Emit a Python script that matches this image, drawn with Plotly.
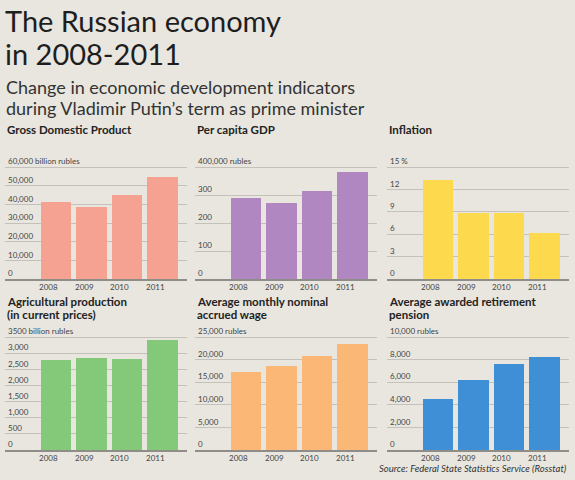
import plotly.graph_objects as go

######################################
### Data

years = ['2008', '2009', '2010', '2011']

gdp = [41300, 38800, 45200, 54600]          # billion rubles
gdp_per_capita = [291, 273, 313, 382]       # thousand rubles
inflation = [13.3, 8.8, 8.8, 6.1]           # %
agri = [2790, 2860, 2810, 3420]             # billion rubles
wage = [17300, 18600, 20900, 23500]         # rubles
pension = [4540, 6180, 7590, 8200]          # rubles

gdp_ticks = [0, 10000, 20000, 30000, 40000, 50000, 60000]
gdp_labels = ['0', '10,000', '20,000', '30,000', '40,000', '50,000', '60,000 billion rubles']
pc_ticks = [0, 100, 200, 300, 400]
pc_labels = ['0', '100', '200', '300', '400,000 rubles']
inf_ticks = [0, 3, 6, 9, 12, 15]
inf_labels = ['0', '3', '6', '9', '12', '15 %']
agri_ticks = [0, 500, 1000, 1500, 2000, 2500, 3000, 3500]
agri_labels = ['0', '500', '1,000', '1,500', '2,000', '2,500', '3,000', '3500 billion rubles']
wage_ticks = [0, 5000, 10000, 15000, 20000, 25000]
wage_labels = ['0', '5,000', '10,000', '15,000', '20,000', '25,000 rubles']
pen_ticks = [0, 2000, 4000, 6000, 8000, 10000]
pen_labels = ['0', '2,000', '4,000', '6,000', '8,000', '10,000 rubles']

panels = [
    dict(title=['Gross Domestic Product'], values=gdp, ticks=gdp_ticks,
         labels=gdp_labels, color='#F6A293'),
    dict(title=['Per capita GDP'], values=gdp_per_capita, ticks=pc_ticks,
         labels=pc_labels, color='#B087C0'),
    dict(title=['Inflation'], values=inflation, ticks=inf_ticks,
         labels=inf_labels, color='#FDD94E'),
    dict(title=['Agricultural production', '(in current prices)'], values=agri,
         ticks=agri_ticks, labels=agri_labels, color='#84C97A'),
    dict(title=['Average monthly nominal', 'accrued wage'], values=wage,
         ticks=wage_ticks, labels=wage_labels, color='#FBB775'),
    dict(title=['Average awarded retirement', 'pension'], values=pension,
         ticks=pen_ticks, labels=pen_labels, color='#3F8FD6'),
]

######################################
### Layout helpers (pixels -> paper)

W, H = 575, 480
col_left = [5, 195, 387]
col_width = 182
row_top = [167, 337]        # pixel row of the top gridline
row_bottom = [279, 450]     # pixel row of the baseline
head_room = 12              # extra px above top gridline so its label shows

def px(x):
    return x / W

def py_(y):
    return 1 - y / H

FONT = 'Lato'
BG = '#E8E6DF'

fig = go.Figure()
annotations = []
layout_axes = {}

for i, p in enumerate(panels):
    r, c = divmod(i, 3)
    n = str(i + 1) if i else ''
    xa, ya = 'x' + n, 'y' + n

    fig.add_trace(go.Bar(
        x=list(range(len(years))), y=p['values'],
        marker=dict(color=p['color'], line=dict(width=0)),
        width=0.85, xaxis=xa, yaxis=ya, showlegend=False,
        hoverinfo='y'))

    plot_h = row_bottom[r] - row_top[r]
    top = p['ticks'][-1] * (1 + head_room / plot_h)

    layout_axes['xaxis' + n] = dict(
        domain=[px(col_left[c]), px(col_left[c] + col_width)],
        anchor=ya, range=[-1.44, 3.69],
        showticklabels=False, ticks='', showgrid=False, zeroline=False,
        showline=True, linecolor='#8E8D88', linewidth=2,
        fixedrange=True)
    layout_axes['yaxis' + n] = dict(
        domain=[py_(row_bottom[r]), py_(row_top[r] - head_room)],
        anchor=xa, range=[0, top],
        tickvals=p['ticks'], ticktext=p['labels'],
        ticklabelposition='inside top', ticks='',
        showgrid=True, gridcolor='#C3C1BA', gridwidth=1,
        zeroline=False, showline=False,
        tickfont=dict(family=FONT, size=8, color='#444'),
        fixedrange=True)

    # year labels, set slightly left of each bar centre as in the original
    for k, yr in enumerate(years):
        annotations.append(dict(
            text=yr, xref=xa, yref='paper', x=k - 0.2,
            y=py_(row_bottom[r] + 8), xanchor='center', yanchor='middle',
            showarrow=False, font=dict(family=FONT, size=8, color='#444')))

    title_y = 138 if r == 0 else 310
    for j, line in enumerate(p['title']):
        annotations.append(dict(
            text='<b>' + line + '</b>', xref='paper', yref='paper',
            x=px(col_left[c]), y=py_(title_y + 13 * j),
            xanchor='left', yanchor='bottom', showarrow=False,
            font=dict(family=FONT, size=11.5, color='#222')))

# headline and subtitle
for j, line in enumerate(['The Russian economy', 'in 2008-2011']):
    annotations.append(dict(
        text=line, xref='paper', yref='paper', x=px(3), y=py_(40 + 33 * j),
        xanchor='left', yanchor='bottom', showarrow=False,
        font=dict(family=FONT, size=29, color='#1E1E1E')))
for j, line in enumerate(['Change in economic development indicators',
                          'during Vladimir Putin\u2019s term as prime minister']):
    annotations.append(dict(
        text=line, xref='paper', yref='paper', x=px(4), y=py_(100 + 21 * j),
        xanchor='left', yanchor='bottom', showarrow=False,
        font=dict(family=FONT, size=18, color='#333')))

annotations.append(dict(
    text='<i>Source: Federal State Statistics Service (Rosstat)</i>',
    xref='paper', yref='paper', x=px(569), y=py_(476),
    xanchor='right', yanchor='bottom', showarrow=False,
    font=dict(family=FONT, size=9.5, color='#333')))

fig.update_layout(
    width=W, height=H,
    margin=dict(l=0, r=0, t=0, b=0),
    paper_bgcolor=BG, plot_bgcolor=BG,
    bargap=0, annotations=annotations,
    **layout_axes)

fig.write_html("out.html", config={'displayModeBar': False},
               post_script="document.body.style.margin='0';")
